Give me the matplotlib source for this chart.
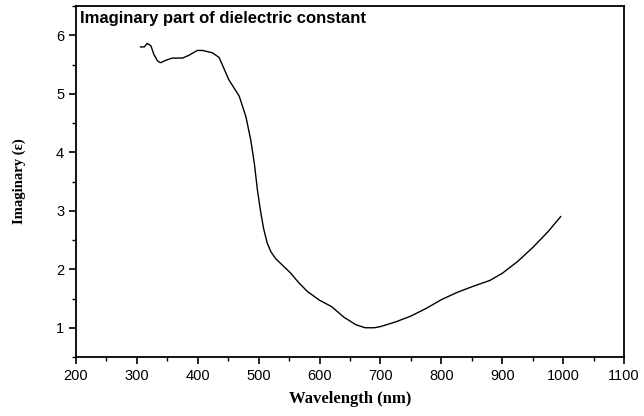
import numpy as np
import matplotlib
matplotlib.use("Agg")
import matplotlib.pyplot as plt
from matplotlib.ticker import MultipleLocator

# wavelength (nm) and imaginary part of dielectric constant
wavelength = [306, 312, 317, 323, 328, 334, 339, 347, 358, 375, 386, 399, 408, 424,
              435, 451, 468, 479, 487, 493, 498, 503, 508, 514, 520, 528, 540, 552,
              565, 580, 600, 620, 640, 660, 675, 690, 700, 725, 750, 775, 800, 825,
              850, 880, 900, 925, 950, 975, 996]
imag = [5.80, 5.80, 5.86, 5.82, 5.67, 5.56, 5.53, 5.57, 5.61, 5.61, 5.66, 5.74, 5.74, 5.70,
        5.62, 5.24, 4.96, 4.61, 4.21, 3.80, 3.35, 3.00, 2.70, 2.45, 2.30, 2.18, 2.06, 1.94,
        1.78, 1.62, 1.47, 1.36, 1.18, 1.05, 1.00, 1.00, 1.02, 1.10, 1.20, 1.33, 1.48, 1.60,
        1.70, 1.81, 1.93, 2.13, 2.37, 2.64, 2.90]

fig = plt.figure(figsize=(6.44, 4.16), dpi=100)
ax = fig.add_axes([76 / 644, 1 - 357 / 416, 548 / 644, 351 / 416])

ax.plot(wavelength, imag, color="black", lw=1.0)

ax.set_xlim(200, 1100)
ax.set_ylim(0.5, 6.5)
ax.xaxis.set_major_locator(MultipleLocator(100))
ax.xaxis.set_minor_locator(MultipleLocator(50))
ax.yaxis.set_major_locator(MultipleLocator(1))
ax.yaxis.set_minor_locator(MultipleLocator(0.5))
ax.tick_params(which="major", direction="out", length=5, width=1.2,
               labelsize=10.5, top=False, right=False)
ax.tick_params(which="minor", direction="out", length=3, width=1.0,
               top=False, right=False)
for lab in ax.get_xticklabels() + ax.get_yticklabels():
    lab.set_fontfamily("Liberation Sans")

for s in ax.spines.values():
    s.set_linewidth(1.3)

ax.text(0.008, 0.985, "Imaginary part of dielectric constant", transform=ax.transAxes,
        ha="left", va="top", fontsize=12, fontweight="bold", family="Liberation Sans")

ax.set_xlabel("Wavelength (nm)", fontsize=12, fontweight="bold",
              family="Liberation Serif", labelpad=6)
ax.set_ylabel("Imaginary (\u03b5)", fontsize=10.5, fontweight="bold",
              family="Liberation Serif", labelpad=22)

fig.savefig("out.png", dpi=100)
